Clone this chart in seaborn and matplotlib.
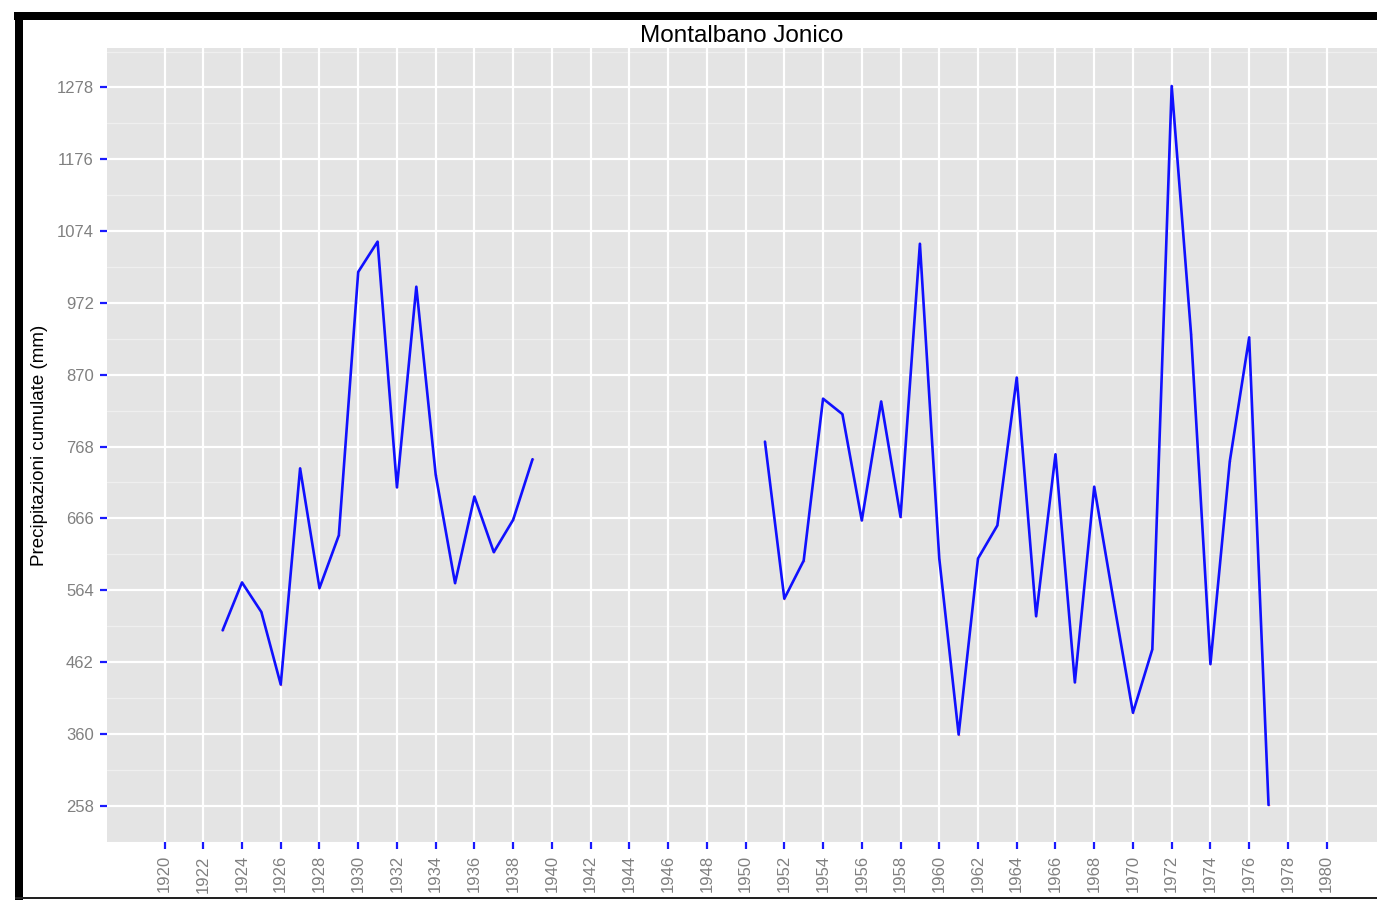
import numpy as np
import pandas as pd
import matplotlib
matplotlib.use("Agg")
import matplotlib.pyplot as plt
import seaborn as sns
from matplotlib.patches import Rectangle
from matplotlib.ticker import FixedLocator

title = "Montalbano Jonico"
ylabel = "Precipitazioni cumulate (mm)"

years_a = list(range(1923, 1940))
values_a = [507, 575, 533, 430, 737, 567, 642, 1016, 1059, 710, 995, 728, 574, 697, 618, 664, 750]
years_b = list(range(1951, 1978))
values_b = [775, 552, 606, 836, 814, 663, 832, 668, 1056, 609, 359, 609, 656, 866, 527,
            757, 433, 711, 549, 390, 480, 1280, 928, 459, 747, 923, 259]

y_ticks = [258, 360, 462, 564, 666, 768, 870, 972, 1074, 1176, 1278]
x_ticks = list(range(1920, 1981, 2))

df = pd.DataFrame({
    "year": years_a + years_b,
    "value": values_a + values_b,
    "period": ["a"] * len(years_a) + ["b"] * len(years_b),
})

sns.set_style("darkgrid", {"axes.facecolor": "#e4e4e4", "grid.color": "white"})
plt.rcParams["font.family"] = ["Liberation Sans", "DejaVu Sans"]

fig = plt.figure(figsize=(13.77, 9.0), dpi=100)
fig.patch.set_facecolor("white")
ax = fig.add_axes([107 / 1377, (900 - 842) / 900, 1 - 107 / 1377, (842 - 48) / 900])

# minor horizontal grid lines
minor_y = [y_ticks[0] - 51] + [v + 51 for v in y_ticks]
for v in minor_y:
    ax.axhline(v, color="#efefef", lw=0.9, zorder=0.5)

sns.lineplot(data=df, x="year", y="value", units="period", estimator=None,
             color="#1010ff", lw=1.9, ax=ax, zorder=3)
ax.scatter(df["year"], df["value"], s=1.5, color="#ff8080", zorder=2, linewidths=0)

ax.set_xlim(1917.03, 1982.6)
ax.set_ylim(206.4, 1334)
ax.xaxis.set_major_locator(FixedLocator(x_ticks))
ax.yaxis.set_major_locator(FixedLocator(y_ticks))
ax.set_xticklabels([str(x) for x in x_ticks], rotation=90)
ax.set_yticklabels([str(y) for y in y_ticks])
ax.grid(True, which="major", color="white", lw=1.6, zorder=1)
ax.set_axisbelow(True)
for s in ax.spines.values():
    s.set_visible(False)
ax.tick_params(axis="both", which="major", length=5, width=1.6, color="#1a1aff",
               labelcolor="#808080", labelsize=12, pad=4.5)
ax.tick_params(axis="x", bottom=True)
ax.tick_params(axis="y", left=True)
ax.set_xlabel("")
ax.set_ylabel(ylabel, fontsize=13.5, color="black")
ax.yaxis.set_label_coords(-0.0465, 0.5)
ax.set_title(title, fontsize=17.5, color="black", pad=4)

# black frame of the original screenshot
fig.patches.append(Rectangle((14 / 1377, 1 - 20 / 900), 1, 8 / 900, transform=fig.transFigure,
                             facecolor="black", edgecolor="none", zorder=10))
fig.patches.append(Rectangle((15 / 1377, 0), 8 / 1377, 1 - 12 / 900, transform=fig.transFigure,
                             facecolor="black", edgecolor="none", zorder=10))
fig.patches.append(Rectangle((15 / 1377, 1 / 900), 1, 2.5 / 900, transform=fig.transFigure,
                             facecolor="#222222", edgecolor="none", zorder=10))

fig.savefig("out.png", dpi=100)
